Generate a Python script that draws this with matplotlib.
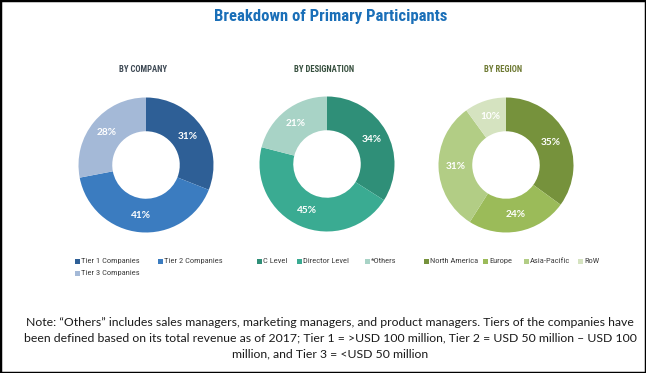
import matplotlib.pyplot as plt
from matplotlib import font_manager
from matplotlib.patches import Rectangle

# data
company_labels = ["Tier 1 Companies", "Tier 2 Companies", "Tier 3 Companies"]
company_values = [31, 41, 28]
company_colors = ["#2e5f96", "#3b7cc0", "#a4b9d7"]

designation_labels = ["C Level", "Director Level", "*Others"]
designation_values = [34, 45, 21]
designation_colors = ["#2f8f78", "#3aab92", "#a8d3c6"]

region_labels = ["North America", "Europe", "Asia-Pacific", "RoW"]
region_values = [35, 24, 31, 10]
region_colors = ["#76923c", "#9bbb59", "#b2cd85", "#d5e3c0"]

W, H = 646, 373
fig = plt.figure(figsize=(W / 100, H / 100), dpi=100)

# pick a narrow font if there is one
installed = {f.name for f in font_manager.fontManager.ttflist}
narrow = "Lato"
for cand in ["Liberation Sans Narrow", "Roboto Condensed", "DejaVu Sans Condensed", "Open Sans Condensed"]:
    if cand in installed:
        narrow = cand
        break
head = [narrow, "DejaVu Sans"]

fig.text(331 / W, 1 - 16 / H, "Breakdown of Primary Participants", ha="center", va="center",
         fontsize=12, fontweight="bold", color="#1a6fb8", family=head)

charts = [
    ("BY COMPANY", company_values, company_colors, (146, 165), "#3f4a55"),
    ("BY DESIGNATION", designation_values, designation_colors, (327, 164), "#37503f"),
    ("BY REGION", region_values, region_colors, (506, 165), "#6e7a33"),
]
r = 67.5
for title, vals, cols, (cx, cy), tcol in charts:
    ax = fig.add_axes([(cx - r) / W, 1 - (cy + r) / H, 2 * r / W, 2 * r / H])
    ax.pie(vals, colors=cols, startangle=90, counterclock=False,
           wedgeprops=dict(width=0.5, edgecolor="none"),
           autopct=lambda p: f"{p:.0f}%", pctdistance=0.75,
           textprops=dict(color="white", fontsize=7.3, fontweight="bold",
                          family=["Lato", "DejaVu Sans"]))
    ax.set_xlim(-1, 1)
    ax.set_ylim(-1, 1)
    ax.set_aspect("equal")
    fig.text(cx / W - 3 / W, 1 - 70 / H, title, ha="center", va="center", fontsize=6.2,
             fontweight="heavy", color=tcol, family=head)

# legend entries (marker x, y in pixels)
legend_pos = [
    (company_labels, company_colors, [(75, 261), (158, 261), (75, 273)]),
    (designation_labels, designation_colors, [(257, 261), (297, 261), (365, 261)]),
    (region_labels, region_colors, [(424, 261), (483, 261), (524, 261), (578, 261)]),
]
s = 5
for labels, colors, pos in legend_pos:
    for lab, col, (x, y) in zip(labels, colors, pos):
        fig.patches.append(Rectangle((x / W, 1 - (y + s / 2) / H), s / W, s / H,
                                     transform=fig.transFigure, facecolor=col,
                                     edgecolor="none"))
        fig.text((x + s + 1.2) / W, 1 - y / H, lab, ha="left", va="center",
                 fontsize=6.1, color="#404040", family=head)

note = ("Note: \u201cOthers\u201d includes sales managers, marketing managers, and product managers. "
        "Tiers of the companies have\nbeen defined based on its total revenue as of 2017; "
        "Tier 1 = >USD 100 million, Tier 2 = USD 50 million \u2013 USD 100\n"
        "million, and Tier 3 = <USD 50 million")
fig.text(330 / W, 1 - 338 / H, note, ha="center", va="center", fontsize=8.8,
         family=["Lato", "DejaVu Sans"], color="#1a1a1a", linespacing=1.55)

fig.patches.append(Rectangle((0, 0), 1, 1, transform=fig.transFigure, fill=False,
                             edgecolor="black", linewidth=2.5))

fig.savefig("out.png", dpi=100)
